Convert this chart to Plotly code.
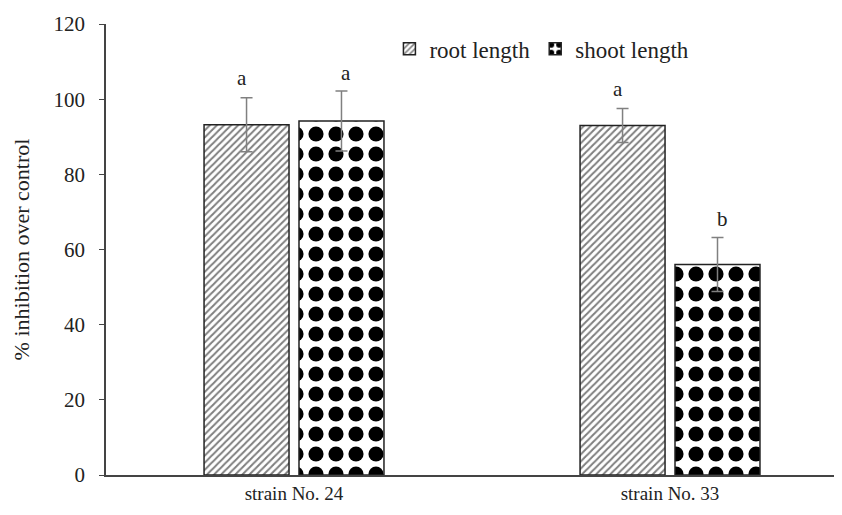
import plotly.graph_objects as go

categories = ["strain No. 24", "strain No. 33"]
root_length = [93.2, 93.0]
root_err = [7.2, 4.5]
shoot_length = [94.2, 56.0]
shoot_err = [8.0, 7.2]
root_letters = ["a", "a"]
shoot_letters = ["a", "b"]
y_ticks = [0, 20, 40, 60, 80, 100, 120]

FONT = "Liberation Serif, Times New Roman, serif"

fig = go.Figure()
fig.add_trace(go.Bar(
    name="root length", x=categories, y=root_length,
    error_y=dict(type="data", array=root_err, color="#808080", thickness=1.5, width=6),
    marker=dict(color="white", line=dict(color="#222222", width=1.5),
                pattern=dict(shape="/", size=5, solidity=0.4, fgcolor="black", bgcolor="white", fillmode="overlay")),
))
fig.add_trace(go.Bar(
    name="shoot length", x=categories, y=shoot_length,
    error_y=dict(type="data", array=shoot_err, color="#808080", thickness=1.5, width=6),
    marker=dict(color="white", line=dict(color="#222222", width=1.5),
                pattern=dict(shape=".", size=20, solidity=0.45, fgcolor="black", bgcolor="white", fillmode="replace")),
))

# significance letters
for i, cat in enumerate(categories):
    fig.add_annotation(x=cat, y=root_length[i] + root_err[i], text=root_letters[i],
                       xref="x", yref="y", showarrow=False, yanchor="bottom", yshift=6,
                       xshift=-52, font=dict(family=FONT, size=21, color="#222"))
    fig.add_annotation(x=cat, y=shoot_length[i] + shoot_err[i], text=shoot_letters[i],
                       xref="x", yref="y", showarrow=False, yanchor="bottom", yshift=4,
                       xshift=52, font=dict(family=FONT, size=21, color="#222"))

fig.update_layout(
    width=842, height=515,
    margin=dict(l=98, r=4, t=14, b=48),
    paper_bgcolor="white", plot_bgcolor="white",
    barmode="group", bargap=0.495, bargroupgap=0.105,
    font=dict(family=FONT, size=19, color="#222"),
    legend=dict(orientation="h", x=0.383, y=0.945, xanchor="left", yanchor="middle",
                font=dict(family=FONT, size=23, color="#222"), itemwidth=30,
                bgcolor="rgba(0,0,0,0)"),
    xaxis=dict(range=[-0.5, 1.468], showline=True, linecolor="#444", linewidth=1.5,
               ticks="", showgrid=False, automargin=False,
               tickfont=dict(family=FONT, size=19, color="#222")),
    yaxis=dict(range=[0, 120], tickvals=y_ticks, showline=True, linecolor="#444", linewidth=1.5,
               ticks="outside", ticklen=5, tickcolor="#444", showgrid=False, zeroline=False,
               ticklabelstandoff=10,
               title=dict(text="% inhibition over control", font=dict(family=FONT, size=22, color="#222"), standoff=18),
               tickfont=dict(family=FONT, size=21, color="#222")),
)

fig.write_html("out.html")
